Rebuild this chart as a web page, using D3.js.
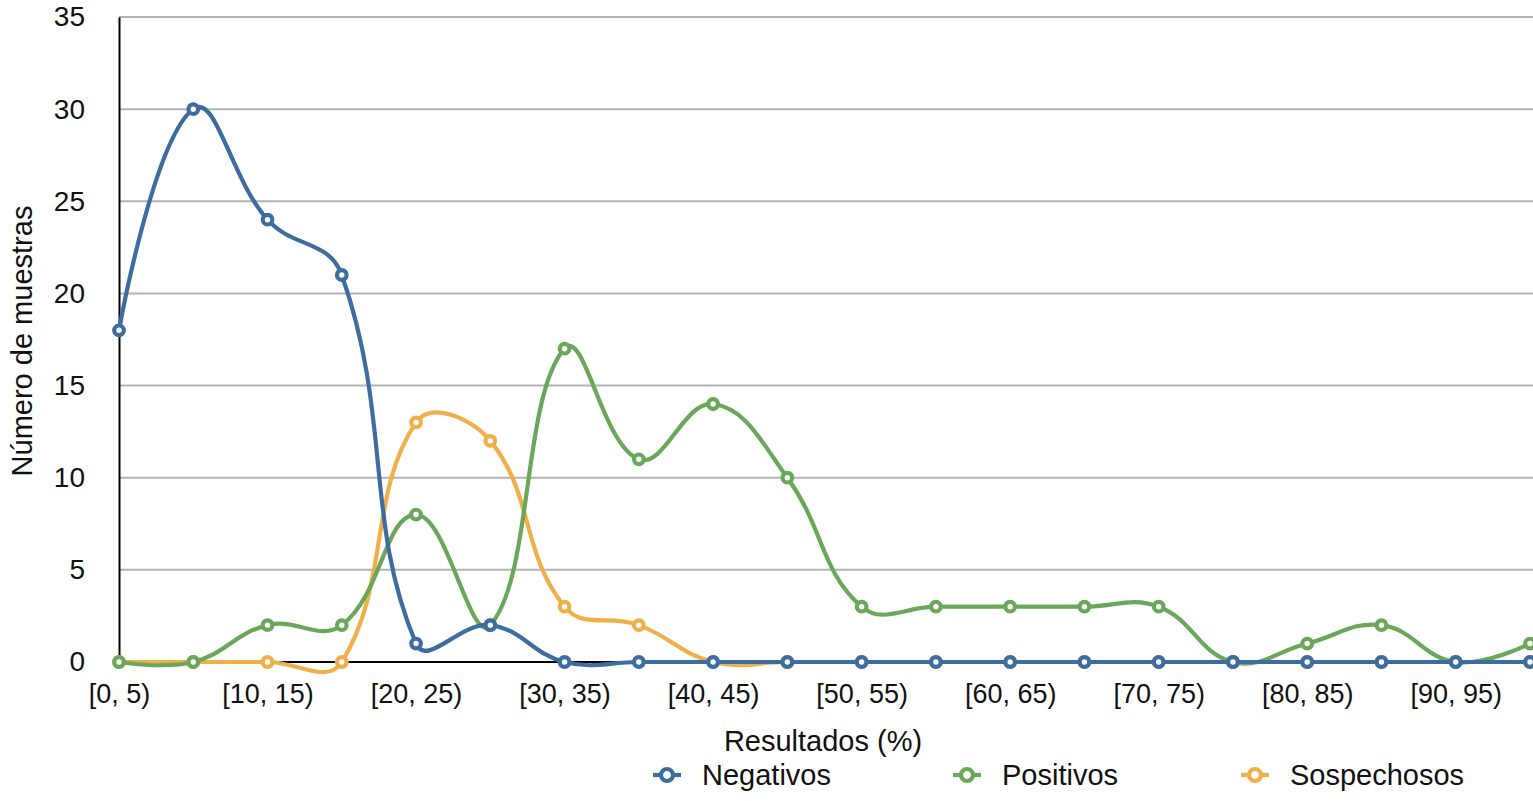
<!DOCTYPE html>
<html><head><meta charset="utf-8">
<script src="https://cdn.jsdelivr.net/npm/d3@7"></script>
<style>
body{margin:0;background:#fff;}
text{font-family:"Helvetica Neue",Helvetica,"Liberation Sans",Arial,sans-serif;fill:#111;}
</style></head>
<body><svg id="c" width="1533" height="801"></svg>
<script>
const categories = ["[0, 5)","[5, 10)","[10, 15)","[15, 20)","[20, 25)","[25, 30)","[30, 35)","[35, 40)","[40, 45)","[45, 50)","[50, 55)","[55, 60)","[60, 65)","[65, 70)","[70, 75)","[75, 80)","[80, 85)","[85, 90)","[90, 95)","[95, 100]"];
const negativos   = [18,30,24,21,1,2,0,0,0,0,0,0,0,0,0,0,0,0,0,0];
const positivos   = [0,0,2,2,8,2,17,11,14,10,3,3,3,3,3,0,1,2,0,1];
const sospechosos = [0,0,0,0,13,12,3,2,0,0,0,0,0,0,0,0,0,0,0,0];
const yTicks = [0,5,10,15,20,25,30,35];
const seriesNames = ["Negativos","Positivos","Sospechosos"];
const colors = {"Negativos":"#3d6d9e","Positivos":"#6ba75a","Sospechosos":"#efb04a"};
const FONT = '"Helvetica Neue",Helvetica,"Liberation Sans",Arial,sans-serif';

// smooth Bezier curve: tangent parallel to neighbour chord, control lengths proportional to segment lengths
function SmoothCurve(ctx){ this._context = ctx; }
SmoothCurve.prototype = {
  areaStart(){}, areaEnd(){},
  lineStart(){ this._x = []; this._y = []; },
  point(x, y){ this._x.push(+x); this._y.push(+y); },
  lineEnd(){
    const X = this._x, Y = this._y, n = X.length, c = this._context, f = 0.42;
    if (!n) return;
    c.moveTo(X[0], Y[0]);
    if (n === 2) { c.lineTo(X[1], Y[1]); return; }
    const inX = [], inY = [], outX = [], outY = [];
    outX[0] = X[0]; outY[0] = Y[0];
    inX[n-1] = X[n-1]; inY[n-1] = Y[n-1];
    for (let i = 1; i < n - 1; i++) {
      const dx = X[i+1]-X[i-1], dy = Y[i+1]-Y[i-1];
      const dp = Math.hypot(X[i]-X[i-1], Y[i]-Y[i-1]);
      const dn = Math.hypot(X[i+1]-X[i], Y[i+1]-Y[i]);
      const s = dp + dn || 1;
      inX[i] = X[i] - dx*f*dp/s; inY[i] = Y[i] - dy*f*dp/s;
      outX[i] = X[i] + dx*f*dn/s; outY[i] = Y[i] + dy*f*dn/s;
    }
    for (let i = 0; i < n - 1; i++) {
      c.bezierCurveTo(outX[i], outY[i], inX[i+1], inY[i+1], X[i+1], Y[i+1]);
    }
  }
};
const smoothCurve = ctx => new SmoothCurve(ctx);

const svg = d3.select("#c");
const x = d3.scalePoint().domain(categories).range([119,1530]);
const y = d3.scaleLinear().domain([0,35]).range([662,17]);

// gridlines
svg.append("g").selectAll("line").data(yTicks.filter(d=>d>0)).join("line")
  .attr("x1",119).attr("x2",1533).attr("y1",d=>y(d)).attr("y2",d=>y(d))
  .attr("stroke","#b3b3b3").attr("stroke-width",2);

// y axis
const yAxis = svg.append("g").attr("transform","translate(119,0)")
  .call(d3.axisLeft(y).tickValues(yTicks).tickSize(0).tickPadding(34));
yAxis.select(".domain").attr("stroke","#000").attr("stroke-width",2);
yAxis.selectAll("text").attr("font-size",28).attr("fill","#111").attr("font-family",FONT);

// x axis
const xAxis = svg.append("g").attr("transform","translate(0,662)")
  .call(d3.axisBottom(x).tickValues(categories.filter((d,i)=>i%2===0)).tickSize(0).tickPadding(22));
xAxis.select(".domain").remove();
svg.append("line").attr("x1",119).attr("x2",1533).attr("y1",662).attr("y2",662).attr("stroke","#000").attr("stroke-width",2);
xAxis.selectAll("text").attr("font-size",27).attr("fill","#111").attr("font-family",FONT);

// titles
svg.append("text").attr("transform","translate(32,341) rotate(-90)").attr("text-anchor","middle")
  .attr("font-size",29).text("Número de muestras");
svg.append("text").attr("x",823).attr("y",751).attr("text-anchor","middle")
  .attr("font-size",29).text("Resultados (%)");

// lines
const data = {"Negativos":negativos,"Positivos":positivos,"Sospechosos":sospechosos};
const line = d3.line().x((d,i)=>x(categories[i])).y(d=>y(d)).curve(smoothCurve);
["Sospechosos","Positivos","Negativos"].forEach(name=>{
  const g = svg.append("g");
  g.append("path").datum(data[name]).attr("d",line).attr("fill","none")
    .attr("stroke",colors[name]).attr("stroke-width",4.2);
  g.selectAll("circle").data(data[name]).join("circle")
    .attr("cx",(d,i)=>x(categories[i])).attr("cy",d=>y(d)).attr("r",4.8)
    .attr("fill","#fff").attr("stroke",colors[name]).attr("stroke-width",4.2);
});

// legend
const legX = [667,967,1255];
seriesNames.forEach((name,i)=>{
  const g = svg.append("g").attr("transform",`translate(${legX[i]},775)`);
  g.append("line").attr("x1",-14).attr("x2",14).attr("stroke",colors[name]).attr("stroke-width",4.2);
  g.append("circle").attr("r",6).attr("fill","#fff").attr("stroke",colors[name]).attr("stroke-width",4.2);
  g.append("text").attr("x",35).attr("y",10).attr("font-size",29).text(name);
});
</script></body></html>
